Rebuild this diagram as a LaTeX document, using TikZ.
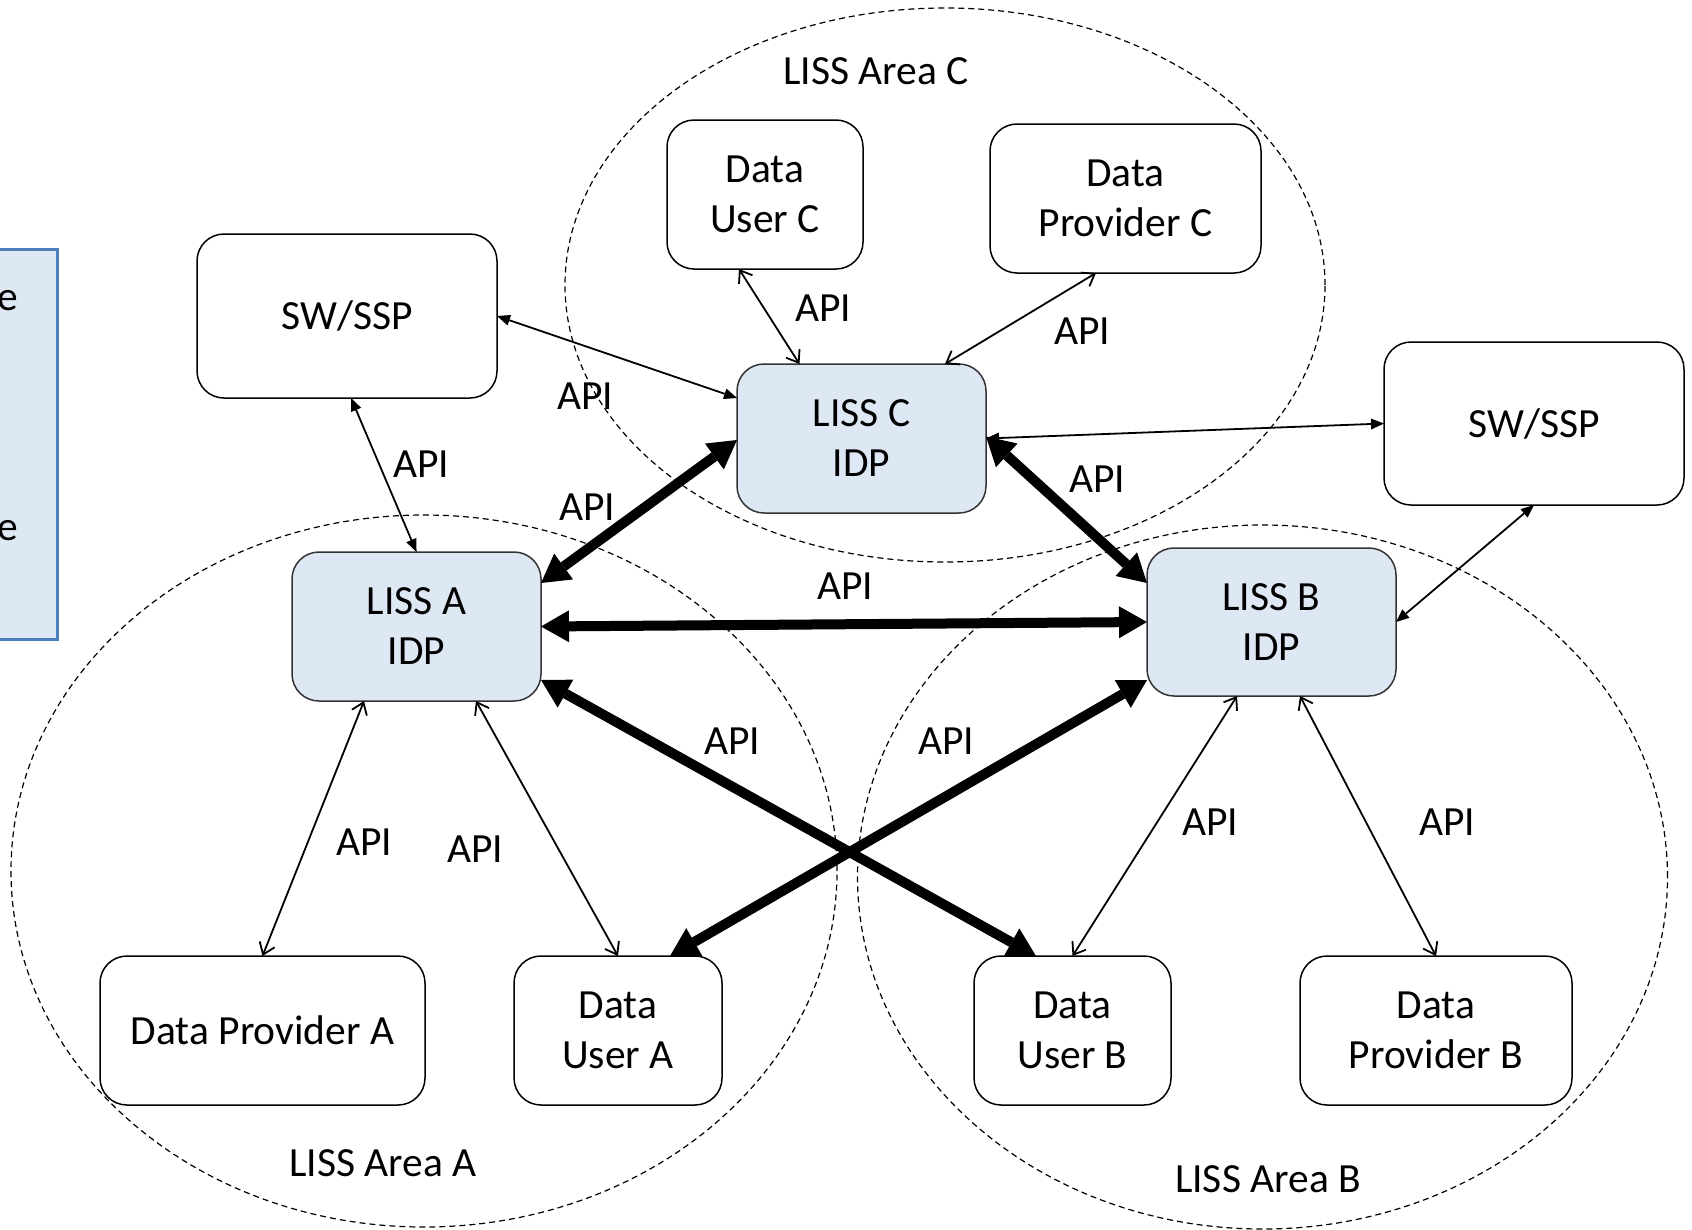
\documentclass[tikz,border=0pt]{standalone}
\usepackage{fontspec}
\setmainfont{Carlito}
\usetikzlibrary{arrows.meta}
\definecolor{idpfill}{HTML}{DEE8F4}
\definecolor{noteborder}{HTML}{4A7EBB}
\tikzset{
  txt/.style={font=\fontsize{41.5}{50}\selectfont},
  box/.style={txt, draw=black, line width=1.5pt, rounded corners=27pt, fill=white,
    align=center, inner sep=0pt, outer sep=0pt},
  idp/.style={box, fill=idpfill, draw=black!80},
  lbl/.style={txt, inner sep=0pt},
  area/.style={draw=black, line width=1.2pt, dash pattern=on 6pt off 4pt},
  thinopen/.style={line width=1.8pt,
    {Straight Barb[length=11pt,width=16pt]}-{Straight Barb[length=11pt,width=16pt]}},
  thinfill/.style={line width=1.8pt,
    {Triangle[length=13pt,width=11pt,line width=0pt]}-{Triangle[length=13pt,width=11pt,line width=0pt]}},
  thickarr/.style={line width=10pt,
    {Triangle[length=28pt,width=32pt,line width=0pt]}-{Triangle[length=28pt,width=32pt,line width=0pt]}},
}
\begin{document}
\begin{tikzpicture}[x=1pt,y=-1pt]
\clip (0,0) rectangle (1692,1229);
\fill[white] (0,0) rectangle (1692,1229);

% cut-off note box at left
\draw[line width=3pt, draw=noteborder, fill=idpfill] (-120,249) rectangle (57,639);
\node[lbl, anchor=base east] (e1) at (18,310) {e};
\node[lbl, anchor=base east] (e2) at (18,540) {e};

% areas
\draw[area] (945,285) ellipse [x radius=380pt, y radius=277pt];
\draw[area] (424,871) ellipse [x radius=413pt, y radius=356pt];
\draw[area] (1262.5,877) ellipse [x radius=405pt, y radius=352pt];
\node[lbl] (areaC) at (876,71) {LISS Area C};
\node[lbl] (areaA) at (383,1163) {LISS Area A};
\node[lbl] (areaB) at (1268,1179) {LISS Area B};

% nodes
\node[box, minimum width=300pt, minimum height=164pt] (SW1) at (347,316) {SW/SSP};
\node[box, minimum width=300pt, minimum height=163pt] (SW2) at (1534,423.5) {SW/SSP};
\node[box, minimum width=196pt, minimum height=149pt] (DUC) at (765,194.5) {Data\\User C};
\node[box, minimum width=271pt, minimum height=149pt] (DPC) at (1125.5,198.5) {Data\\Provider C};
\node[idp, minimum width=249pt, minimum height=149pt] (LC) at (861.5,438.5) {LISS C\\IDP};
\node[idp, minimum width=249pt, minimum height=149pt] (LA) at (416.5,626.5) {LISS A\\IDP};
\node[idp, minimum width=249pt, minimum height=148pt] (LB) at (1271.5,622) {LISS B\\IDP};
\node[box, minimum width=325pt, minimum height=149pt] (DPA) at (262.5,1030.5) {Data Provider A};
\node[box, minimum width=208pt, minimum height=149pt] (DUA) at (618,1030.5) {Data\\User A};
\node[box, minimum width=197pt, minimum height=149pt] (DUB) at (1072.5,1030.5) {Data\\User B};
\node[box, minimum width=272pt, minimum height=149pt] (DPB) at (1436,1030.5) {Data\\Provider B};

% connectors
\draw[thinfill] (SW1.east) -- ([yshift=40.5pt]LC.west);
\draw[thinfill] ([xshift=4pt]SW1.south) -- (LA.north);
\draw[thinopen] ([xshift=-26pt]DUC.south) -- ([xshift=-62pt]LC.north);
\draw[thinopen] ([xshift=-29.5pt]DPC.south) -- ([xshift=83.5pt]LC.north);
\draw[thinfill] (LC.east) -- (SW2.west);
\draw[thinfill] (SW2.south) -- (LB.east);
\draw[thickarr] ([yshift=2pt]LC.east) -- ([yshift=39pt]LB.west);
\draw[thickarr] ([yshift=43.5pt]LA.east) -- ([yshift=-1.5pt]LC.west);
\draw[thickarr] (LA.east) -- (LB.west);
\draw[thickarr] ([yshift=-53.5pt]LA.east) -- ([xshift=-36.5pt]DUB.north);
\draw[thickarr] ([yshift=-58pt]LB.west) -- ([xshift=52pt]DUA.north);
\draw[thinopen] ([xshift=-52.5pt]LA.south) -- (DPA.north);
\draw[thinopen] ([xshift=59.5pt]LA.south) -- (DUA.north);
\draw[thinopen] ([xshift=-34.5pt]LB.south) -- (DUB.north);
\draw[thinopen] ([xshift=28.5pt]LB.south) -- (DPB.north);

% API labels
\node[lbl] (api1) at (823,308) {API};
\node[lbl] (api2) at (1082,331) {API};
\node[lbl] (api3) at (585,396) {API};
\node[lbl] (api4) at (421,464) {API};
\node[lbl] (api5) at (587,507) {API};
\node[lbl] (api6) at (1097,479) {API};
\node[lbl] (api7) at (845,586) {API};
\node[lbl] (api8) at (732,741) {API};
\node[lbl] (api9) at (946,741) {API};
\node[lbl] (api10) at (364,842) {API};
\node[lbl] (api11) at (475,849) {API};
\node[lbl] (api12) at (1210,822) {API};
\node[lbl] (api13) at (1447,822) {API};
\end{tikzpicture}
\end{document}
